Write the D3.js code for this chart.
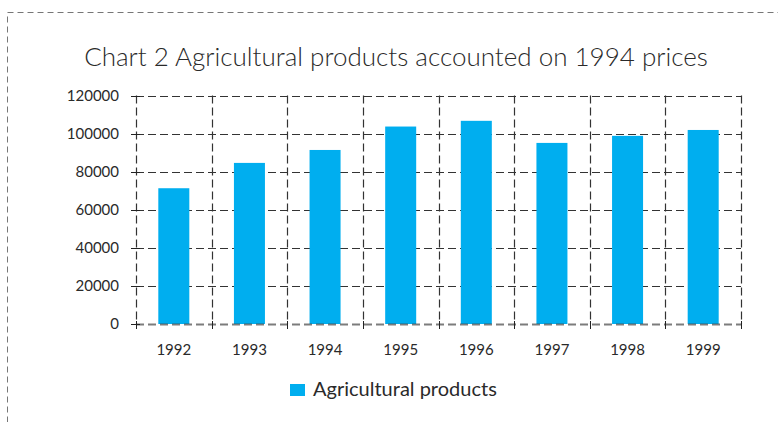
<!DOCTYPE html>
<html>
<head>
<meta charset="utf-8">
<script src="https://cdn.jsdelivr.net/npm/d3@7"></script>
<style>
  html, body { margin: 0; padding: 0; background: #fff; }
  svg { display: block; }
  text { font-family: Lato, "Open Sans", sans-serif; fill: #2a2a2a; }
</style>
</head>
<body>
<svg id="chart" width="778" height="422"></svg>
<script>
// Agricultural output, 1994 prices
const years = ["1992", "1993", "1994", "1995", "1996", "1997", "1998", "1999"];
const values = [71300, 84600, 91400, 103700, 106700, 95100, 98800, 101900];
const yTicks = [0, 20000, 40000, 60000, 80000, 100000, 120000];
const seriesName = "Agricultural products";
const titleText = "Chart 2 Agricultural products accounted on 1994 prices";

const svg = d3.select("#chart");
const W = 778, H = 422;
const m = { left: 136, right: 741, top: 95.5, bottom: 324 };
const barColor = "#00AEEF";

// Outer dashed frame
svg.append("rect")
  .attr("x", 7.5).attr("y", 12.5)
  .attr("width", W + 20).attr("height", H + 20)
  .attr("fill", "none")
  .attr("stroke", "#777")
  .attr("stroke-width", 1)
  .attr("stroke-dasharray", "6,4");

// Title
svg.append("text")
  .attr("x", 396).attr("y", 66)
  .attr("text-anchor", "middle")
  .style("font-size", "26px")
  .style("font-weight", 300)
  .text(titleText);

const x = d3.scaleBand().domain(years).range([m.left, m.right]).paddingInner(0.59).paddingOuter(0.295);
const xEdge = d3.scaleLinear().domain([0, years.length]).range([m.left, m.right]);
const y = d3.scaleLinear().domain([0, 120000]).range([m.bottom, m.top]);

const grid = svg.append("g");
// Horizontal gridlines (above baseline)
grid.selectAll("line.h")
  .data(yTicks.filter(d => d > 0))
  .join("line")
  .attr("x1", m.left).attr("x2", m.right)
  .attr("y1", d => Math.round(y(d)) + 0.5).attr("y2", d => Math.round(y(d)) + 0.5)
  .attr("stroke", "#333").attr("stroke-width", 1.2)
  .attr("stroke-dasharray", "8,4");

// Vertical gridlines at category boundaries
grid.selectAll("line.v")
  .data(d3.range(years.length + 1))
  .join("line")
  .attr("x1", i => Math.round(xEdge(i)) + 0.5).attr("x2", i => Math.round(xEdge(i)) + 0.5)
  .attr("y1", m.top).attr("y2", m.bottom)
  .attr("stroke", "#333").attr("stroke-width", 1.2)
  .attr("stroke-dasharray", "8,4");

// Bars
svg.append("g").selectAll("rect")
  .data(years.map((yr, i) => ({ yr, v: values[i] })))
  .join("rect")
  .attr("x", d => x(d.yr))
  .attr("width", x.bandwidth())
  .attr("y", d => y(d.v))
  .attr("height", d => y(0) - y(d.v))
  .attr("fill", barColor);

// Baseline (drawn over bars)
svg.append("line")
  .attr("x1", m.left).attr("x2", m.right)
  .attr("y1", Math.round(y(0)) + 0.5).attr("y2", Math.round(y(0)) + 0.5)
  .attr("stroke", "#444").attr("stroke-opacity", 0.7).attr("stroke-width", 2)
  .attr("stroke-dasharray", "8,4");

// Y axis ticks and labels
const yAxis = svg.append("g");
yAxis.selectAll("line")
  .data(yTicks)
  .join("line")
  .attr("x1", m.left - 5).attr("x2", m.left + 4)
  .attr("y1", d => Math.round(y(d)) + 0.5).attr("y2", d => Math.round(y(d)) + 0.5)
  .attr("stroke", "#222").attr("stroke-width", 1);
yAxis.selectAll("text")
  .data(yTicks)
  .join("text")
  .attr("x", 119)
  .attr("y", d => y(d) + 5)
  .attr("text-anchor", "end")
  .style("font-size", "15px")
  .text(d => d);

// X axis ticks at boundaries and year labels
const xAxis = svg.append("g");
xAxis.selectAll("line")
  .data(d3.range(years.length + 1))
  .join("line")
  .attr("x1", i => Math.round(xEdge(i)) + 0.5).attr("x2", i => Math.round(xEdge(i)) + 0.5)
  .attr("y1", m.bottom - 3).attr("y2", m.bottom + 5)
  .attr("stroke", "#222").attr("stroke-width", 1);
xAxis.selectAll("text")
  .data(years)
  .join("text")
  .attr("x", d => x(d) + x.bandwidth() / 2)
  .attr("y", 355)
  .attr("text-anchor", "middle")
  .style("font-size", "15px")
  .text(d => d);

// Legend
const legend = svg.append("g");
legend.append("rect")
  .attr("x", 290).attr("y", 384)
  .attr("width", 15).attr("height", 12)
  .attr("fill", barColor);
legend.append("text")
  .attr("x", 313).attr("y", 396)
  .style("font-size", "20px")
  .text(seriesName);
</script>
</body>
</html>
